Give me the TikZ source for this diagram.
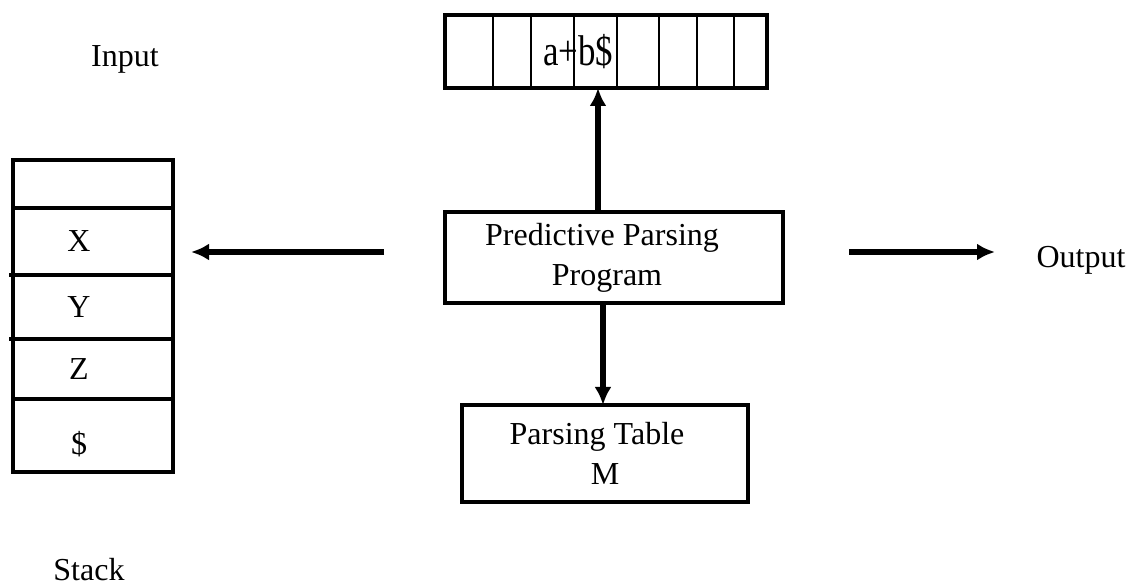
\documentclass[tikz,border=0pt]{standalone}
\usepackage{fontspec}
\setmainfont{Liberation Serif}
\usepackage{tikz}
\usetikzlibrary{arrows.meta,positioning,calc}

\begin{document}
\begin{tikzpicture}[x=1pt, y=1pt, every node/.style={font=\fontsize{32}{40}\selectfont, outer sep=0pt}, >={Latex[length=18pt,width=17pt]}, node distance=0pt,
  box/.style={draw, line width=3.2pt, inner sep=0pt, align=center},
  cell/.style={box, minimum width=160pt},
  flow/.style={->, line width=5.5pt}]
\useasboundingbox (0,0) rectangle (1130,586);
\node[box, minimum width=338pt, minimum height=91pt] (prog) at (614,328.5) {Predictive Parsing\hspace*{24pt}\\Program\hspace*{14pt}};
\node[box, minimum width=322pt, minimum height=73pt, above=124pt of prog, xshift=-8pt] (tape) {};
\foreach \dx in {48,86,129,172,214,252,289}
  \draw[line width=2.8pt] ([xshift=\dx pt]tape.north west) -- ([xshift=\dx pt]tape.south west);
\node[inner sep=0pt, xshift=-28pt] (word) at (tape.center) {\scalebox{0.81}[1]{\fontsize{43}{43}\selectfont a+b\$}};
\node[box, minimum width=286pt, minimum height=97pt, below=102pt of prog, xshift=-9pt] (tbl) {Parsing Table\hspace*{16pt}\\M};
% stack
\node[cell, minimum height=48pt] (stop) at (93,402) {};
\node[cell, minimum height=67pt, below=of stop, label={[xshift=-14pt]center:X}] (sx) {};
\node[cell, minimum height=64pt, below=of sx, label={[xshift=-14pt]center:Y}] (sy) {};
\node[cell, minimum height=60pt, below=of sy, label={[xshift=-14pt]center:Z}] (sz) {};
\node[cell, minimum height=73pt, below=of sz, label={[xshift=-14pt, yshift=-9pt]center:\$}] (send) {};
\draw[line width=3.2pt] (sx.south west) -- ++(-4,0);
\draw[line width=3.2pt] (sy.south west) -- ++(-4,0);
% labels
\node[anchor=base] (inlbl) at (125,519) {Input};
\node[anchor=base] (outlbl) at (1081,318) {Output};
\node[anchor=base] (stlbl) at (89,5) {Stack};
% arrows
\coordinate (lt) at (384,334);
\coordinate (lh) at (191,334);
\coordinate (rt) at (849,334);
\coordinate (rh) at (995,334);
\draw[flow] (lt) -- (lh);
\draw[flow] (rt) -- (rh);
\draw[flow] ([xshift=-16pt]prog.north) -- ([xshift=-8pt]tape.south);
\draw[flow] ([xshift=-11pt]prog.south) -- ([xshift=-2pt]tbl.north);
\end{tikzpicture}
\end{document}
